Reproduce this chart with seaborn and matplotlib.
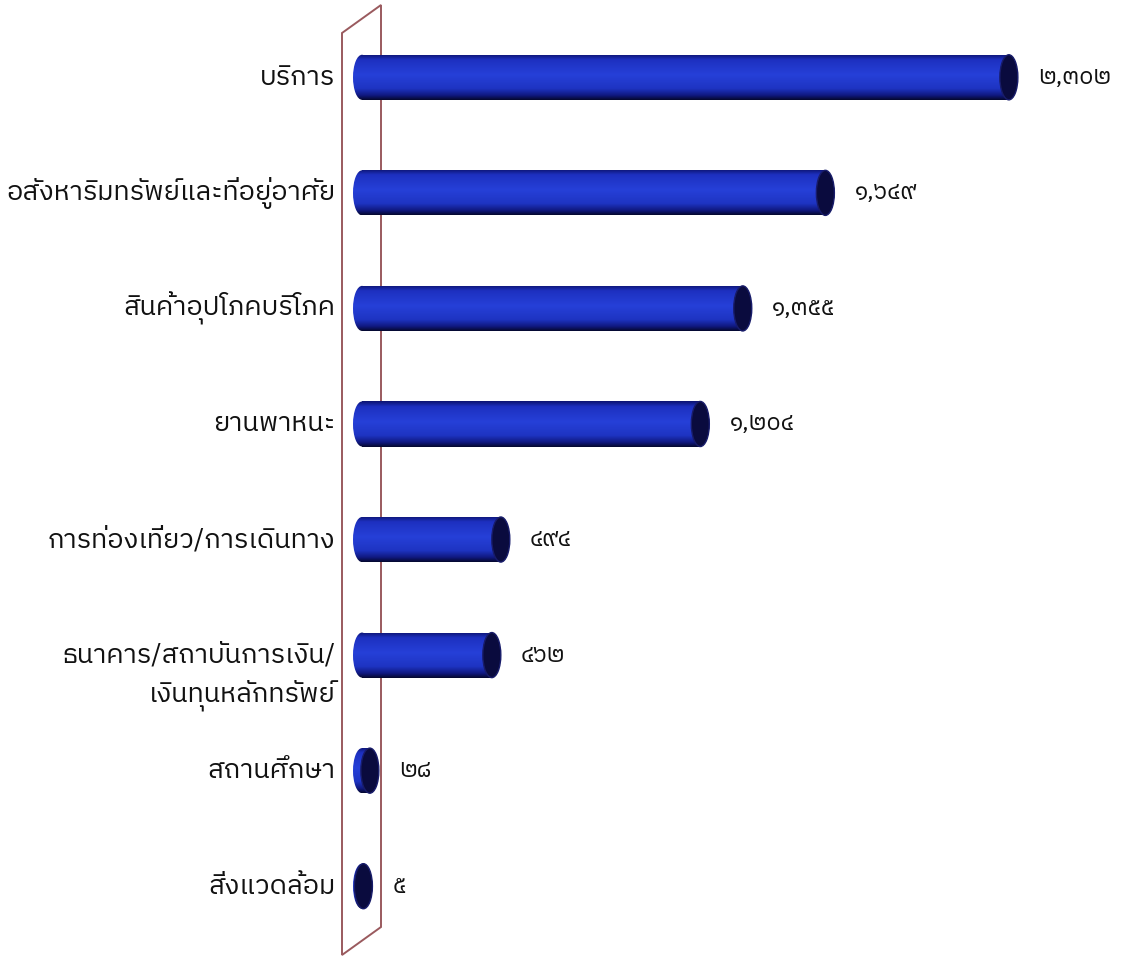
import numpy as np
import pandas as pd
import matplotlib
matplotlib.use("Agg")
import matplotlib.pyplot as plt
import seaborn as sns
from matplotlib import font_manager
from matplotlib.ft2font import FT2Font
from matplotlib.patches import Ellipse, Polygon
from matplotlib.colors import LinearSegmentedColormap

# ---------------- data ----------------
categories = [
    "บริการ",
    "อสังหาริมทรัพย์และที่อยู่อาศัย",
    "สินค้าอุปโภคบริโภค",
    "ยานพาหนะ",
    "การท่องเที่ยว/การเดินทาง",
    "ธนาคาร/สถาบันการเงิน/\nเงินทุนหลักทรัพย์",
    "สถานศึกษา",
    "สิ่งแวดล้อม",
]
values = [2302, 1649, 1355, 1204, 494, 462, 28, 5]

THAI_DIGITS = str.maketrans("0123456789", "๐๑๒๓๔๕๖๗๘๙")


def thai_num(v):
    return f"{v:,}".translate(THAI_DIGITS)


def find_thai_font():
    found = []
    seen = set()
    for f in font_manager.fontManager.ttflist:
        if f.fname in seen:
            continue
        seen.add(f.fname)
        try:
            cmap = FT2Font(f.fname).get_charmap()
        except Exception:
            continue
        if 0x0E01 in cmap and 0x0E52 in cmap:
            found.append(f)
    if not found:
        return None
    found.sort(key=lambda f: (0 if "Thai" in f.name else 1,
                              0 if f.weight in (400, "normal", "regular") else 1,
                              0 if f.style == "normal" else 1))
    return found[0].name


sns.set_theme(style="white")
thai = find_thai_font()
fams = ([thai] if thai else []) + ["DejaVu Sans"]
plt.rcParams["font.family"] = fams

W, H = 1130, 957
PX_PER_UNIT = 0.281
XMIN, XMAX = -45, 2700
ZERO_PX = 362
left_px = ZERO_PX + XMIN * PX_PER_UNIT
width_px = (XMAX - XMIN) * PX_PER_UNIT

fig = plt.figure(figsize=(W / 100, H / 100), dpi=100)
fig.patch.set_facecolor("white")
ax = fig.add_axes([left_px / W, 0.0136, width_px / W, 0.966])

df = pd.DataFrame({"category": categories, "value": values})
sns.barplot(data=df, y="category", x="value", orient="h", color="#2238c8",
            width=0.39, saturation=1, ax=ax, zorder=3)
ax.set_xlim(XMIN, XMAX)
ax.set_ylim(len(categories) - 0.5, -0.5)
ax.axis("off")

cap_w = 18 / PX_PER_UNIT

body_cmap = LinearSegmentedColormap.from_list(
    "cyl", [(0.0, "#0c1470"), (0.12, "#1d30c0"), (0.45, "#2640d8"),
            (0.75, "#1e34c2"), (0.9, "#101880"), (1.0, "#05082e")])
grad = np.linspace(0, 1, 200).reshape(-1, 1)

for p in list(ax.patches):
    x0, y0, w, h = p.get_x(), p.get_y(), p.get_width(), p.get_height()
    yc = y0 + h / 2
    p.set_alpha(0)
    # body
    body = plt.Rectangle((x0, y0), w, h, transform=ax.transData, facecolor="none", edgecolor="none")
    ax.add_patch(body)
    im = ax.imshow(grad, cmap=body_cmap, origin="lower", aspect="auto",
                   extent=(x0, x0 + w, y0, y0 + h), zorder=3, interpolation="bilinear")
    im.set_clip_path(body)
    # left rounded front
    lcap = Ellipse((x0, yc), cap_w, h, facecolor="none", edgecolor="none")
    ax.add_patch(lcap)
    im2 = ax.imshow(grad, cmap=body_cmap, origin="lower", aspect="auto",
                    extent=(x0 - cap_w / 2, x0 + cap_w / 2, y0, y0 + h), zorder=3,
                    interpolation="bilinear")
    im2.set_clip_path(lcap)
    # right end cap
    rcap = Ellipse((x0 + w, yc), cap_w, h, facecolor="#0a0b3e", edgecolor="#181c6a",
                   lw=1.0, zorder=4)
    ax.add_patch(rcap)

ax.set_xlim(XMIN, XMAX)
ax.set_ylim(len(categories) - 0.5, -0.5)

# back wall (decorative frame)
pts = [(342, 33), (381, 5), (381, 927), (342, 955)]
wall = Polygon([(x / W, 1 - y / H) for x, y in pts], closed=True, transform=fig.transFigure,
               facecolor="none", edgecolor="#9a5a5e", lw=1.4, zorder=1, clip_on=False)
ax.add_patch(wall)

# category labels
for i, cat in enumerate(categories):
    lines = cat.split("\n")
    for j, line in enumerate(lines):
        ax.annotate(line, xy=(0, i), xytext=(-19, -29 * j), textcoords="offset points",
                    ha="right", va="center", fontsize=19.5, color="#111111",
                    annotation_clip=False)

# value labels
for i, v in enumerate(values):
    ax.annotate(thai_num(v), xy=(v, i), xytext=(21, 0), textcoords="offset points",
                ha="left", va="center", fontsize=17, color="#111111",
                annotation_clip=False)

fig.savefig("out.png", dpi=100, facecolor="white")
